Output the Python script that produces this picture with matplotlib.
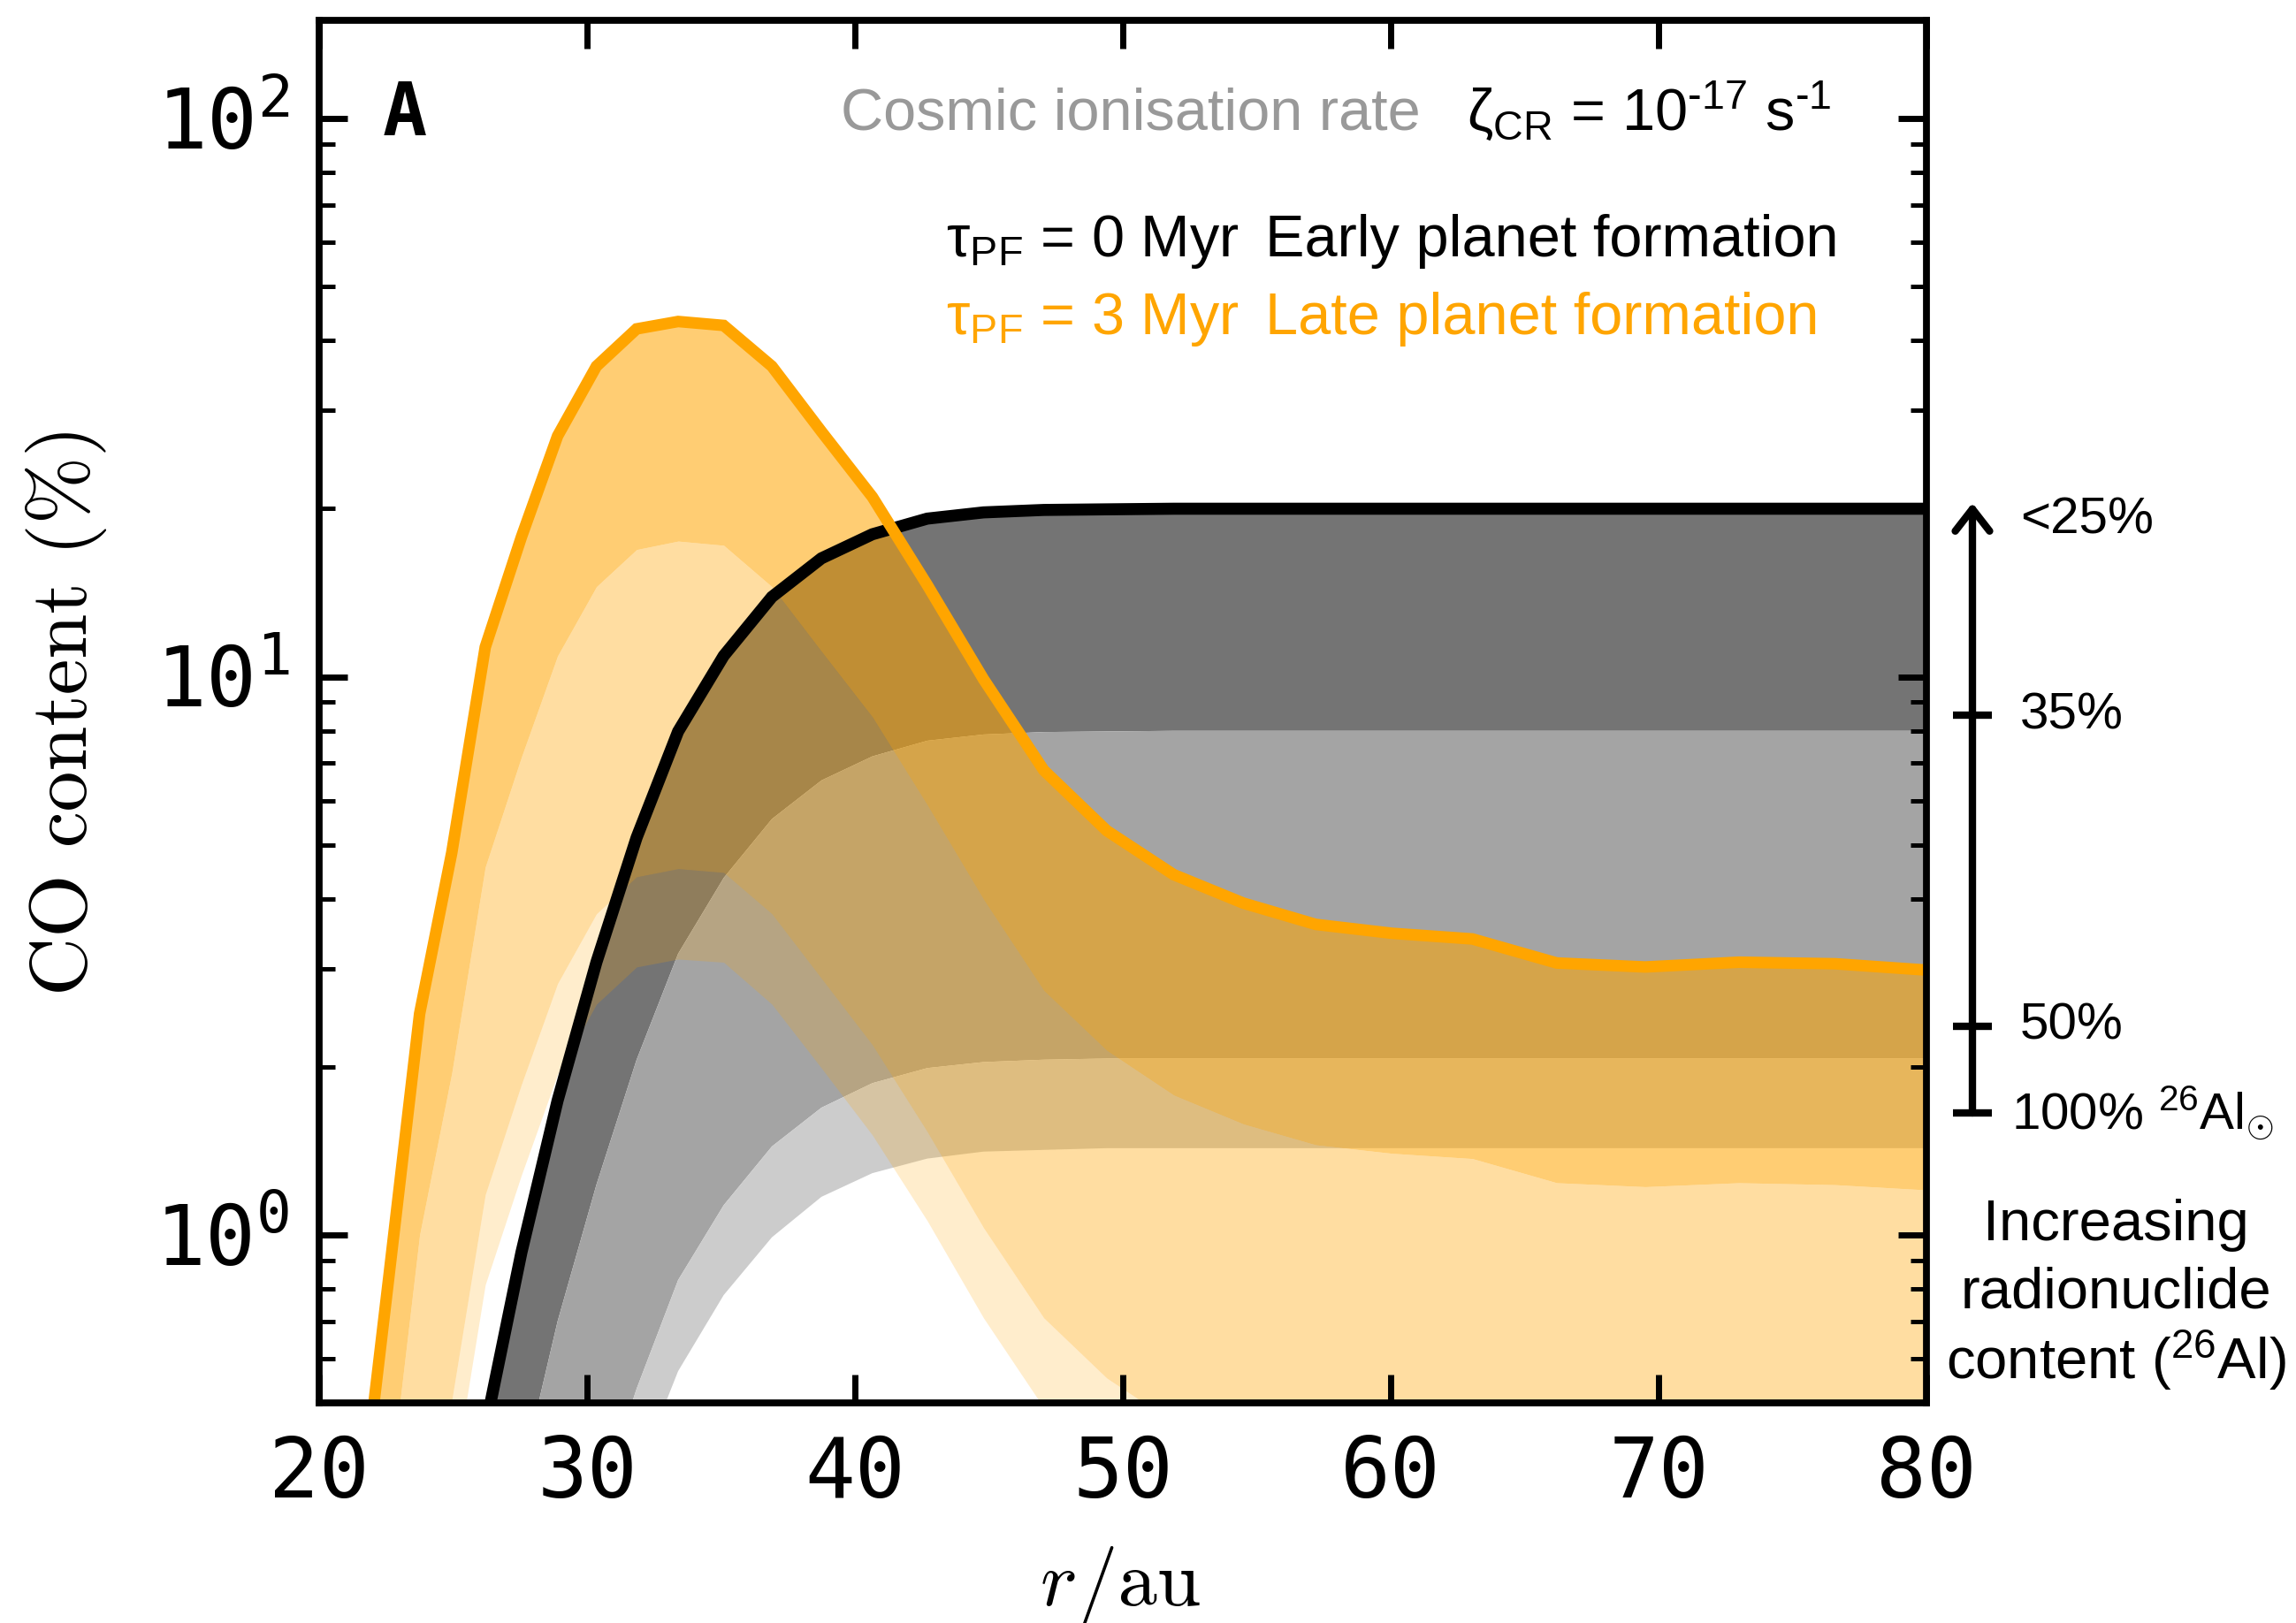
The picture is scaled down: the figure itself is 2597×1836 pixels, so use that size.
import matplotlib
matplotlib.use("Agg")
import matplotlib.pyplot as plt
from matplotlib.ticker import FixedLocator, FixedFormatter, LogLocator, NullFormatter

plt.rcParams["font.family"] = ["Liberation Sans", "DejaVu Sans"]
plt.rcParams["mathtext.fontset"] = "custom"
plt.rcParams["mathtext.rm"] = "Liberation Sans"
plt.rcParams["mathtext.it"] = "Liberation Sans:italic"
plt.rcParams["mathtext.bf"] = "Liberation Sans:bold"
plt.rcParams["mathtext.sf"] = "Liberation Sans"
plt.rcParams["mathtext.tt"] = "DejaVu Sans Mono"

# ---------------------------------------------------------------- data
r_au = [21.5, 22.6, 23.75, 24.95, 26.2, 27.55, 28.9, 30.35, 31.85, 33.4,
        35.1, 36.9, 38.75, 40.65, 42.7, 44.8, 47.05, 49.4, 51.9, 54.5,
        57.2, 60.05, 63.05, 66.2, 69.5, 73.0, 76.6, 80.5]

# tau_PF = 0 Myr (early planet formation): CO content (%) for 26Al levels
early_lt25 = [0.01, 0.02, 0.05, 0.15, 0.45, 0.93, 1.74, 3.08, 5.15, 7.98,
              10.9, 13.9, 16.3, 18.0, 19.2, 19.7, 19.9, 19.95, 20.0, 20.0,
              20.0, 20.0, 20.0, 20.0, 20.0, 20.0, 20.0, 20.0]
early_35 = [0.004, 0.008, 0.02, 0.06, 0.18, 0.37, 0.70, 1.23, 2.06, 3.19,
            4.36, 5.56, 6.52, 7.20, 7.68, 7.88, 7.96, 7.98, 8.0, 8.0,
            8.0, 8.0, 8.0, 8.0, 8.0, 8.0, 8.0, 8.0]
early_50 = [0.001, 0.002, 0.005, 0.016, 0.047, 0.096, 0.18, 0.32, 0.53, 0.83,
            1.13, 1.44, 1.69, 1.87, 1.99, 2.04, 2.06, 2.07, 2.07, 2.07,
            2.07, 2.07, 2.07, 2.07, 2.07, 2.07, 2.07, 2.07]
early_100 = [0.001, 0.001, 0.003, 0.011, 0.032, 0.066, 0.124, 0.22, 0.37, 0.57,
             0.78, 0.99, 1.17, 1.29, 1.37, 1.41, 1.42, 1.43, 1.43, 1.43,
             1.43, 1.43, 1.43, 1.43, 1.43, 1.43, 1.43, 1.43]

# tau_PF = 3 Myr (late planet formation)
late_lt25 = [0.30, 0.84, 2.49, 4.84, 11.3, 17.8, 27.0, 36.0, 42.0, 43.3,
             42.6, 36.0, 27.5, 21.0, 14.6, 9.9, 6.8, 5.3, 4.42, 3.93,
             3.60, 3.47, 3.39, 3.07, 3.02, 3.08, 3.06, 2.97]
late_35 = [0.12, 0.34, 1.00, 1.95, 4.56, 7.18, 10.9, 14.5, 16.9, 17.5,
           17.2, 14.5, 11.1, 8.47, 5.89, 3.99, 2.74, 2.14, 1.78, 1.58,
           1.45, 1.40, 1.37, 1.24, 1.22, 1.24, 1.23, 1.20]
late_50 = [0.031, 0.088, 0.26, 0.505, 1.18, 1.86, 2.82, 3.76, 4.38, 4.53,
           4.46, 3.76, 2.88, 2.19, 1.53, 1.03, 0.71, 0.554, 0.461, 0.409,
           0.376, 0.363, 0.355, 0.321, 0.316, 0.321, 0.319, 0.311]
late_100 = [0.021, 0.061, 0.179, 0.348, 0.814, 1.28, 1.94, 2.59, 3.02, 3.12,
            3.08, 2.59, 1.99, 1.51, 1.06, 0.71, 0.49, 0.382, 0.318, 0.282,
            0.259, 0.250, 0.245, 0.221, 0.218, 0.221, 0.22, 0.214]

x_ticks = [20, 30, 40, 50, 60, 70, 80]
y_ticks = [1, 10, 100]
y_tick_labels = [r"$\mathtt{10^{0}}$", r"$\mathtt{10^{1}}$", r"$\mathtt{10^{2}}$"]

# ---------------------------------------------------------------- figure
W, H = 2597, 1836
DPI = 200
fig = plt.figure(figsize=(W / DPI, H / DPI), dpi=DPI)


def fx(px):
    return px / W


def fy(py):
    return 1 - py / H


ax = fig.add_axes([fx(361), fy(1587), fx(2179) - fx(361), fy(23) - fy(1587)])
ax.set_yscale("log")
ax.set_xlim(20, 80)
ax.set_ylim(0.5, 150)

# grey bands (early formation), opaque
ax.fill_between(r_au, early_35, early_lt25, color="#747474", lw=0, zorder=1)
ax.fill_between(r_au, early_50, early_35, color="#a4a4a4", lw=0, zorder=1)
ax.fill_between(r_au, early_100, early_50, color="#cccccc", lw=0, zorder=1)

# orange bands (late formation), translucent on top
ax.fill_between(r_au, late_35, late_lt25, color="orange", alpha=0.55, lw=0, zorder=1.2)
ax.fill_between(r_au, late_50, late_35, color="orange", alpha=0.37, lw=0, zorder=1.2)
ax.fill_between(r_au, late_100, late_50, color="orange", alpha=0.20, lw=0, zorder=1.2)

ax.plot(r_au, early_lt25, color="black", lw=4.9, zorder=3, solid_joinstyle="miter")
ax.plot(r_au, late_lt25, color="orange", lw=4.7, zorder=4, solid_joinstyle="miter")

# axes styling
for sp in ax.spines.values():
    sp.set_linewidth(2.8)
    sp.set_zorder(5)
ax.xaxis.set_major_locator(FixedLocator(x_ticks))
ax.yaxis.set_major_locator(FixedLocator(y_ticks))
ax.yaxis.set_major_formatter(FixedFormatter(y_tick_labels))
ax.yaxis.set_minor_locator(LogLocator(base=10, subs=range(2, 10)))
ax.yaxis.set_minor_formatter(NullFormatter())
ax.tick_params(which="both", direction="in", top=True, right=True)
ax.tick_params(which="major", length=11.5, width=2.5, pad=12, labelsize=34)
ax.tick_params(which="minor", length=6.5, width=1.8)
ax.tick_params(axis="x", which="minor", top=False, bottom=False)
for lab in ax.get_xticklabels():
    lab.set_family("DejaVu Sans Mono")

# panel letter and labels
fig.text(fx(433), fy(153), "A", family="DejaVu Sans Mono", weight="bold",
         fontsize=30, ha="left", va="baseline")
fig.text(fx(75), fy(803), "CO content (%)", family="cmr10", fontsize=33,
         rotation=90, ha="center", va="center")
fig.text(fx(1177), fy(1816), "r", family="cmmi10", fontsize=32,
         ha="left", va="baseline")
fig.text(fx(1220), fy(1816), "/au", family="cmr10", fontsize=32,
         ha="left", va="baseline")

# header texts
fig.text(fx(951), fy(147), "Cosmic ionisation rate", color="#999999",
         fontsize=24, ha="left", va="baseline")
fig.text(fx(1659), fy(147),
         r"ζ$_{\mathrm{CR}}$ = 10$^{\text{-17}}$ s$^{\text{-1}}$",
         color="black", fontsize=24, ha="left", va="baseline")
fig.text(fx(1070), fy(290), r"τ$_{\mathrm{PF}}$ = 0 Myr", color="black",
         fontsize=24, ha="left", va="baseline")
fig.text(fx(1431), fy(290), "Early planet formation", color="black",
         fontsize=24, ha="left", va="baseline")
fig.text(fx(1070), fy(378), r"τ$_{\mathrm{PF}}$ = 3 Myr", color="orange",
         fontsize=24, ha="left", va="baseline")
fig.text(fx(1431), fy(378), "Late planet formation", color="orange",
         fontsize=24, ha="left", va="baseline")

# radionuclide scale to the right of the panel
arrow_x = 2231
fig.add_artist(matplotlib.patches.FancyArrowPatch(
    (fx(arrow_x), fy(1259)), (fx(arrow_x), fy(569)), transform=fig.transFigure,
    arrowstyle="->,head_length=0.9,head_width=0.7", mutation_scale=10,
    lw=3.0, color="black", shrinkA=0, shrinkB=0))
for yb in [809, 1161, 1259]:
    fig.add_artist(matplotlib.lines.Line2D(
        [fx(arrow_x - 22), fx(arrow_x + 22)], [fy(yb), fy(yb)],
        transform=fig.transFigure, lw=3.0, color="black", solid_capstyle="butt"))

fig.text(fx(2285), fy(588), "<25%", fontsize=21, ha="left", va="center")
fig.text(fx(2285), fy(809), "35%", fontsize=21, ha="left", va="center")
fig.text(fx(2285), fy(1161), "50%", fontsize=21, ha="left", va="center")
fig.text(fx(2275), fy(1259), r"100% $^{\mathrm{26}}$Al$_{\odot}$", fontsize=21,
         ha="left", va="center")
fig.text(fx(2393), fy(1403), "Increasing", fontsize=23.5, ha="center", va="baseline")
fig.text(fx(2393), fy(1480), "radionuclide", fontsize=23.5, ha="center", va="baseline")
fig.text(fx(2393), fy(1560), r"content ($^{\mathrm{26}}$Al)", fontsize=23.5,
         ha="center", va="baseline")

fig.savefig("out.png", dpi=DPI)
